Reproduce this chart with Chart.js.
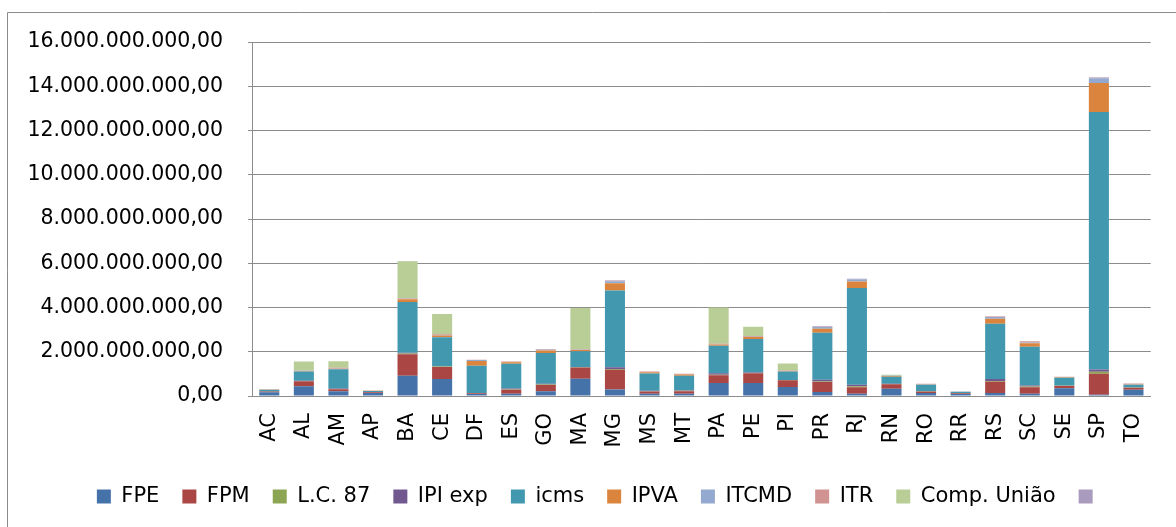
<!DOCTYPE html>
<html><head><meta charset="utf-8">
<script src="https://cdn.jsdelivr.net/npm/chart.js@4"></script>
<style>html,body{margin:0;padding:0;background:#fff;} #wrap{position:relative;width:1176px;height:527px;}</style>
</head><body><div id="wrap"><canvas id="c" width="1176" height="527"></canvas></div>
<script>
// values in billions (R$ 1.000.000.000)
const states = ['AC','AL','AM','AP','BA','CE','DF','ES','GO','MA','MG','MS','MT','PA','PE','PI','PR','RJ','RN','RO','RR','RS','SC','SE','SP','TO'];
const fpe    = [0.17,0.44,0.21,0.14,0.92,0.77,0.09,0.10,0.21,0.78,0.29,0.10,0.10,0.59,0.59,0.41,0.18,0.10,0.33,0.14,0.09,0.14,0.10,0.35,0.06,0.28];
const fpm    = [0.03,0.23,0.10,0.03,0.97,0.54,0.03,0.18,0.29,0.51,0.90,0.10,0.12,0.35,0.44,0.30,0.45,0.30,0.20,0.06,0.03,0.50,0.30,0.10,0.95,0.09];
const lc87   = [0.005,0.01,0.01,0.005,0.03,0.02,0.005,0.02,0.02,0.01,0.03,0.02,0.02,0.02,0.01,0.01,0.03,0.04,0.01,0.01,0.005,0.04,0.03,0.01,0.09,0.01];
const ipiExp = [0.002,0.01,0.02,0.002,0.04,0.02,0.005,0.04,0.03,0.01,0.08,0.02,0.02,0.07,0.02,0.005,0.07,0.07,0.01,0.005,0.002,0.09,0.05,0.01,0.10,0.005];
const icms   = [0.08,0.42,0.87,0.05,2.29,1.31,1.24,1.12,1.39,0.71,3.47,0.78,0.66,1.24,1.52,0.38,2.13,4.37,0.32,0.29,0.06,2.49,1.75,0.36,11.64,0.12];
const ipva   = [0.01,0.02,0.02,0.01,0.12,0.08,0.21,0.06,0.12,0.06,0.33,0.05,0.05,0.06,0.09,0.02,0.18,0.30,0.03,0.02,0.005,0.23,0.15,0.02,1.31,0.01];
const itcmd  = [0.002,0.01,0.01,0.002,0.03,0.02,0.05,0.01,0.03,0.01,0.09,0.01,0.005,0.01,0.01,0.005,0.09,0.10,0.01,0.005,0.002,0.08,0.04,0.005,0.21,0.005];
const itr    = [0.01,0.01,0.04,0.01,0.02,0.03,0.005,0.03,0.02,0.02,0.02,0.03,0.03,0.02,0.03,0.02,0.02,0.005,0.01,0.02,0.01,0.02,0.05,0.02,0.02,0.05];
const compUniao = [0,0.41,0.29,0,1.67,0.92,0,0,0,1.87,0,0,0,1.64,0.42,0.32,0,0,0.04,0,0,0,0,0,0,0];
const unnamed = [0,0,0,0,0.01,0,0,0,0.01,0,0.02,0,0,0,0,0,0.01,0.01,0,0,0,0.01,0,0,0.03,0];
const seriesNames = ['FPE','FPM','L.C. 87','IPI exp','icms','IPVA','ITCMD','ITR','Comp. União',''];
const seriesColors = ['#4672AA','#AA4643','#8CA552','#71588F','#4198AF','#DB843D','#93A9CF','#D19392','#B9CD96','#A99BBD'];
const seriesData = [fpe,fpm,lc87,ipiExp,icms,ipva,itcmd,itr,compUniao,unnamed];
const yMax = 16, yStep = 2;

function fmtBR(billions){
  const n = Math.round(billions*1e9);
  const s = n.toString().replace(/\B(?=(\d{3})+(?!\d))/g,'.');
  return s + ',00';
}

const framePlugin = {
  id:'frame',
  afterLayout(chart){
    const lg = chart.legend;
    if(lg){ lg.left += 21; lg.right += 21; }
  },
  beforeDraw(chart){
    const ctx = chart.ctx;
    ctx.save();
    ctx.fillStyle='#fff';
    ctx.fillRect(0,0,chart.width,chart.height);
    ctx.strokeStyle='#8c8c8c';
    ctx.lineWidth=1;
    ctx.beginPath();
    ctx.moveTo(7.5,chart.height+5);
    ctx.lineTo(7.5,12.5);
    ctx.lineTo(chart.width+5,12.5);
    ctx.stroke();
    ctx.restore();
  }
};

const FONT = 'DejaVu Sans';
new Chart(document.getElementById('c'),{
  type:'bar',
  data:{
    labels:states,
    datasets:seriesNames.map((n,i)=>({
      label:n,
      data:seriesData[i],
      backgroundColor:seriesColors[i],
      borderWidth:0,
      barPercentage:0.58,
      categoryPercentage:1
    }))
  },
  options:{
    responsive:false,
    animation:false,
    devicePixelRatio:1,
    layout:{padding:{top:42,right:18,bottom:10,left:0}},
    plugins:{
      legend:{
        position:'bottom',
        labels:{boxWidth:14,boxHeight:14,padding:23,color:'#000',font:{family:FONT,size:21}}
      },
      tooltip:{enabled:false}
    },
    scales:{
      x:{
        stacked:true,
        grid:{display:false,drawTicks:false},
        border:{display:true,color:'#8c8c8c',width:1},
        ticks:{minRotation:90,maxRotation:90,autoSkip:false,padding:17,color:'#000',font:{family:FONT,size:21}},
        afterFit(s){s.height=67;}
      },
      y:{
        stacked:true,
        min:0,max:yMax,
        ticks:{stepSize:yStep,padding:25,color:'#000',font:{family:FONT,size:20.5},callback:(v)=>fmtBR(v)},
        grid:{color:'#8c8c8c',lineWidth:1,tickLength:4},
        border:{display:true,color:'#8c8c8c',width:1},
        afterFit(s){s.width=252;}
      }
    }
  },
  plugins:[framePlugin]
});
</script></body></html>
